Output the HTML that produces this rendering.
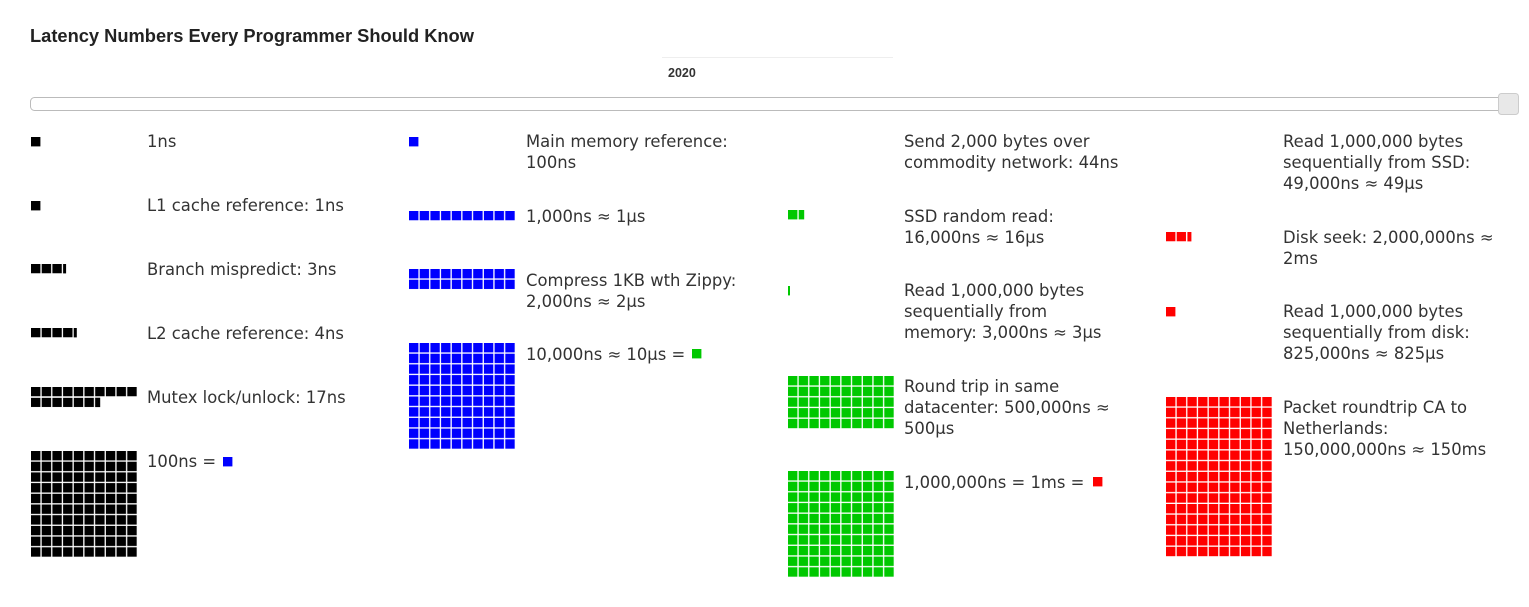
<!DOCTYPE html>
<html><head><meta charset="utf-8"><style>
html,body{margin:0;padding:0;background:#fff;}
svg{display:block}
text{font-family:"DejaVu Sans",Verdana,sans-serif;font-size:16.4px;fill:#333;}
</style></head><body>
<svg width="1529" height="607" viewBox="0 0 1529 607" xmlns="http://www.w3.org/2000/svg">
<defs>
<pattern id="pk" patternUnits="userSpaceOnUse" width="10.7" height="10.7"><rect width="9.4" height="9.4" fill="#000"/></pattern>
<pattern id="pb" patternUnits="userSpaceOnUse" width="10.7" height="10.7"><rect width="9.4" height="9.4" fill="#0000ff"/></pattern>
<pattern id="pg" patternUnits="userSpaceOnUse" width="10.7" height="10.7"><rect width="9.4" height="9.4" fill="#00c800"/></pattern>
<pattern id="pr" patternUnits="userSpaceOnUse" width="10.7" height="10.7"><rect width="9.4" height="9.4" fill="#ff0000"/></pattern>
</defs>
<text x="30" y="42" style="font-family:'Liberation Sans',Arial,sans-serif;font-weight:bold;font-size:18.3px;fill:#222">Latency Numbers Every Programmer Should Know</text>
<line x1="662" y1="57.5" x2="893" y2="57.5" stroke="#eee"/>
<text x="668" y="77" style="font-family:'Liberation Sans',Arial,sans-serif;font-weight:bold;font-size:12.5px;fill:#333">2020</text>
<rect x="30.5" y="97.5" width="1480" height="13" rx="4" fill="#fff" stroke="#bbb"/>
<rect x="1498.5" y="93.5" width="20" height="21" rx="3" fill="#e8e8e8" stroke="#ccc"/>

<rect x="31" y="137" width="9.4" height="9.4" fill="#000"/>
<rect x="31" y="201" width="9.4" height="9.4" fill="#000"/>
<g transform="translate(31,264)"><rect width="32" height="9.4" fill="url(#pk)"/><rect x="32.1" width="3" height="9.4" fill="#000"/></g>
<g transform="translate(31,328)"><rect width="42.8" height="9.4" fill="url(#pk)"/><rect x="42.8" width="3" height="9.4" fill="#000"/></g>
<g transform="translate(31,387)"><rect width="107" height="9.4" fill="url(#pk)"/><rect y="10.7" width="64.2" height="9.4" fill="url(#pk)"/><rect x="64.2" y="10.7" width="5" height="9.4" fill="#000"/></g>
<g transform="translate(31,451)"><rect width="107" height="107" fill="url(#pk)"/></g>
<text x="147" y="147">1ns</text>
<text x="147" y="211">L1 cache reference: 1ns</text>
<text x="147" y="275">Branch mispredict: 3ns</text>
<text x="147" y="339">L2 cache reference: 4ns</text>
<text x="147" y="403">Mutex lock/unlock: 17ns</text>
<text x="147" y="467">100ns = </text><rect x="223" y="457" width="9.4" height="9.4" fill="#0000ff"/>

<rect x="409" y="137" width="9.4" height="9.4" fill="#0000ff"/>
<g transform="translate(409,211)"><rect width="107" height="9.4" fill="url(#pb)"/></g>
<g transform="translate(409,269)"><rect width="107" height="20.1" fill="url(#pb)"/></g>
<g transform="translate(409,343)"><rect width="107" height="107" fill="url(#pb)"/></g>
<text x="526" y="147">Main memory reference:</text>
<text x="526" y="168">100ns</text>
<text x="526" y="222">1,000ns ≈ 1μs</text>
<text x="526" y="286">Compress 1KB wth Zippy:</text>
<text x="526" y="307">2,000ns ≈ 2μs</text>
<text x="526" y="360">10,000ns ≈ 10μs = </text><rect x="692" y="349" width="9.4" height="9.4" fill="#00c800"/>

<g transform="translate(788,210)"><rect width="9.4" height="9.4" fill="#00c800"/><rect x="10.7" width="5.5" height="9.4" fill="#00c800"/></g>
<rect x="788" y="286" width="2" height="9.4" fill="#00c800"/>
<g transform="translate(788,376)"><rect width="107" height="53.5" fill="url(#pg)"/></g>
<g transform="translate(788,471)"><rect width="107" height="107" fill="url(#pg)"/></g>
<text x="904" y="147">Send 2,000 bytes over</text>
<text x="904" y="168">commodity network: 44ns</text>
<text x="904" y="222">SSD random read:</text>
<text x="904" y="243">16,000ns ≈ 16μs</text>
<text x="904" y="296">Read 1,000,000 bytes</text>
<text x="904" y="317">sequentially from</text>
<text x="904" y="338">memory: 3,000ns ≈ 3μs</text>
<text x="904" y="392">Round trip in same</text>
<text x="904" y="413">datacenter: 500,000ns ≈</text>
<text x="904" y="434">500μs</text>
<text x="904" y="488">1,000,000ns = 1ms = </text><rect x="1093" y="477" width="9.4" height="9.4" fill="#ff0000"/>

<g transform="translate(1166,232)"><rect width="20.1" height="9.4" fill="url(#pr)"/><rect x="21.4" width="4" height="9.4" fill="#ff0000"/></g>
<rect x="1166" y="307" width="9.4" height="9.4" fill="#ff0000"/>
<g transform="translate(1166,397)"><rect width="107" height="160.5" fill="url(#pr)"/></g>
<text x="1283" y="147">Read 1,000,000 bytes</text>
<text x="1283" y="168">sequentially from SSD:</text>
<text x="1283" y="189">49,000ns ≈ 49μs</text>
<text x="1283" y="243">Disk seek: 2,000,000ns ≈</text>
<text x="1283" y="264">2ms</text>
<text x="1283" y="317">Read 1,000,000 bytes</text>
<text x="1283" y="338">sequentially from disk:</text>
<text x="1283" y="359">825,000ns ≈ 825μs</text>
<text x="1283" y="413">Packet roundtrip CA to</text>
<text x="1283" y="434">Netherlands:</text>
<text x="1283" y="455">150,000,000ns ≈ 150ms</text>
</svg>
</body></html>
